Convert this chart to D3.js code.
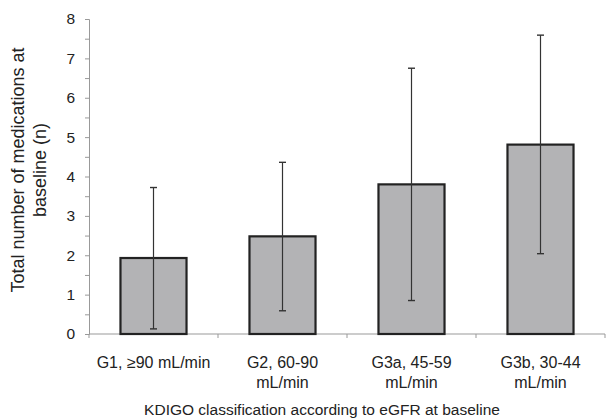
<!DOCTYPE html>
<html>
<head>
<meta charset="utf-8">
<script src="https://cdn.jsdelivr.net/npm/d3@7"></script>
<style>
  body { margin: 0; background: #fff; }
  text { font-family: "Liberation Sans", Arial, sans-serif; fill: #222; }
</style>
</head>
<body>
<script>
// data
var categories = ["G1, \u226590 mL/min", "G2, 60-90 mL/min", "G3a, 45-59 mL/min", "G3b, 30-44 mL/min"];
var labelLines = [["G1, \u226590 mL/min"], ["G2, 60-90", "mL/min"], ["G3a, 45-59", "mL/min"], ["G3b, 30-44", "mL/min"]];
var means = [1.93, 2.48, 3.80, 4.81];
var errLow = [0.13, 0.59, 0.85, 2.04];
var errHigh = [3.72, 4.36, 6.75, 7.59];
var yTicks = [0, 1, 2, 3, 4, 5, 6, 7, 8];

var width = 614, height = 418;
var margin = {top: 19, right: 9, bottom: 85, left: 89};

var svg = d3.select("body").append("svg")
    .attr("width", width)
    .attr("height", height);

var x = d3.scaleBand()
    .domain(categories)
    .range([margin.left, width - margin.right])
    .paddingInner(0.488)
    .paddingOuter(0.244);

var xStep = d3.scaleBand()
    .domain(categories)
    .range([margin.left, width - margin.right])
    .padding(0);

var y = d3.scaleLinear()
    .domain([0, 8])
    .range([height - margin.bottom + 1, margin.top]);

// y axis
var yAxis = svg.append("g")
    .attr("transform", "translate(" + margin.left + ",0)")
    .call(d3.axisLeft(y).tickValues(d3.range(0, 8.01, 0.5)).tickSize(4).tickFormat(function(d) {
        return yTicks.indexOf(d) >= 0 ? d : "";
    }));
yAxis.select(".domain").attr("stroke", "#999");
yAxis.selectAll(".tick line").attr("stroke", "#999");
yAxis.selectAll(".tick text")
    .attr("x", -14)
    .style("font-size", "15.5px")
    .attr("fill", "#222");

// x axis with boundary ticks
var xAxis = svg.append("g")
    .attr("transform", "translate(0," + y(0) + ")");
xAxis.append("line")
    .attr("x1", margin.left).attr("x2", width - margin.right)
    .attr("stroke", "#999");
xAxis.selectAll(".bt")
    .data(categories.concat(["end"]))
    .enter().append("line")
    .attr("x1", function(d, i) { return i < categories.length ? xStep(d) : xStep.range()[1]; })
    .attr("x2", function(d, i) { return i < categories.length ? xStep(d) : xStep.range()[1]; })
    .attr("y1", 0).attr("y2", 4)
    .attr("stroke", "#999");

// bars
svg.selectAll(".bar")
    .data(means)
    .enter().append("rect")
    .attr("x", function(d, i) { return x(categories[i]); })
    .attr("y", function(d) { return y(d); })
    .attr("width", x.bandwidth())
    .attr("height", function(d) { return y(0) - y(d); })
    .attr("fill", "#b3b3b5")
    .attr("stroke", "#222")
    .attr("stroke-width", 2.2);

// error bars
var eb = svg.selectAll(".err")
    .data(means)
    .enter().append("g")
    .attr("transform", function(d, i) { return "translate(" + (x(categories[i]) + x.bandwidth() / 2) + ",0)"; });
eb.append("line")
    .attr("y1", function(d, i) { return y(errLow[i]); })
    .attr("y2", function(d, i) { return y(errHigh[i]); })
    .attr("stroke", "#333").attr("stroke-width", 1.2);
eb.append("line")
    .attr("x1", -3.5).attr("x2", 3.5)
    .attr("y1", function(d, i) { return y(errLow[i]); })
    .attr("y2", function(d, i) { return y(errLow[i]); })
    .attr("stroke", "#333").attr("stroke-width", 1.4);
eb.append("line")
    .attr("x1", -3.5).attr("x2", 3.5)
    .attr("y1", function(d, i) { return y(errHigh[i]); })
    .attr("y2", function(d, i) { return y(errHigh[i]); })
    .attr("stroke", "#333").attr("stroke-width", 1.4);

// category labels
var cl = svg.selectAll(".cat")
    .data(labelLines)
    .enter().append("text")
    .attr("text-anchor", "middle")
    .style("font-size", "16px")
    .attr("transform", function(d, i) { return "translate(" + (xStep(categories[i]) + xStep.bandwidth() / 2) + ",368)"; });
cl.selectAll("tspan")
    .data(function(d) { return d; })
    .enter().append("tspan")
    .attr("x", 0)
    .attr("dy", function(d, j) { return j === 0 ? 0 : 20; })
    .text(function(d) { return d; });

// x title
svg.append("text")
    .attr("x", (margin.left + width - margin.right) / 2 - 25)
    .attr("y", 415)
    .attr("text-anchor", "middle")
    .style("font-size", "15.5px")
    .text("KDIGO classification according to eGFR at baseline");

// y title
var yt = svg.append("text")
    .attr("transform", "translate(23.5,170) rotate(-90)")
    .attr("text-anchor", "middle")
    .style("font-size", "18px");
yt.append("tspan").attr("x", 0).attr("dy", 0).text("Total number of medications at");
yt.append("tspan").attr("x", 0).attr("dy", 22).text("baseline (n)");
</script>
</body>
</html>
